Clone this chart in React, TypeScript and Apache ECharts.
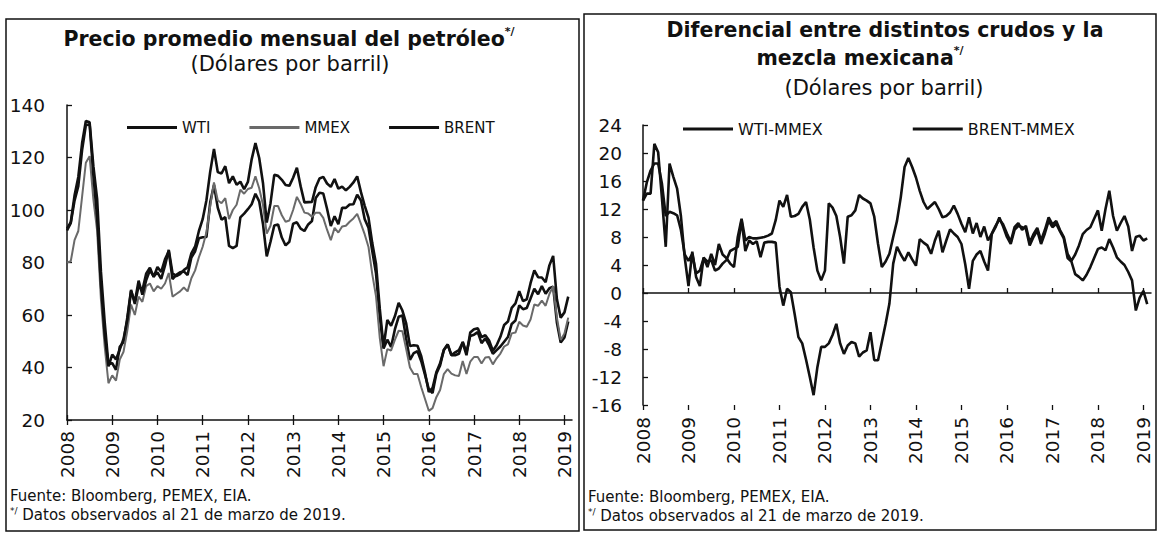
import React, { useEffect, useRef } from "react";
import * as echarts from "echarts";

const years = ["2008", "2009", "2010", "2011", "2012", "2013", "2014", "2015", "2016", "2017", "2018", "2019"];
const monthCodes = ["01", "02", "03", "04", "05", "06", "07", "08", "09", "10", "11", "12"];
// monthly categories, Jan 2008 .. Mar 2019
const months: string[] = years.flatMap((y) => monthCodes.map((m) => `${y}-${m}`)).slice(0, 135);

const yTicksLeft = { min: 20, max: 140, step: 20 };
const yTicksRight = { min: -16, max: 24, step: 4 };

// Precio promedio mensual (USD/barril), Jan 2008 .. Feb 2019
const wti = [
  92.9, 95.4, 105.5, 112.6, 125.4, 133.9, 133.4, 116.7, 104.1, 76.6, 57.3, 41.1,
  41.7, 39.1, 47.9, 49.7, 59.0, 69.6, 64.2, 71.1, 69.4, 75.7, 78.0, 74.5,
  78.3, 76.4, 81.2, 84.3, 73.7, 75.3, 76.3, 76.6, 75.2, 81.9, 84.3, 89.2,
  89.6, 89.7, 102.9, 109.5, 100.9, 96.3, 97.3, 86.3, 85.5, 86.3, 97.2, 98.6,
  100.3, 102.2, 106.2, 103.3, 94.7, 82.3, 87.9, 94.1, 94.5, 89.5, 86.5, 87.9,
  94.8, 95.3, 92.9, 92.0, 94.5, 95.8, 104.6, 106.6, 106.3, 100.5, 93.9, 97.6,
  94.6, 100.8, 100.8, 102.1, 102.2, 105.8, 103.6, 96.5, 93.2, 84.4, 75.8, 59.3,
  47.2, 50.6, 47.8, 54.5, 59.3, 59.8, 50.9, 42.9, 45.5, 46.2, 42.4, 37.2,
  31.7, 30.3, 37.6, 40.8, 46.7, 48.8, 44.7, 44.7, 45.2, 49.8, 45.7, 52.0,
  52.5, 53.5, 49.3, 51.1, 48.5, 45.2, 46.6, 48.0, 49.8, 51.6, 56.6, 57.9,
  63.7, 62.2, 62.7, 66.3, 70.0, 67.9, 71.0, 68.1, 70.2, 70.8, 57.0, 49.5,
  51.4, 57.5,
];
const mmex = [
  80.0, 80.5, 88.5, 92.0, 105.0, 118.0, 120.5, 104.0, 92.0, 66.0, 48.0, 34.0,
  37.0, 35.0, 43.0, 46.0, 54.0, 64.0, 60.0, 67.0, 65.0, 71.0, 72.0, 69.0,
  71.0, 70.0, 72.0, 76.0, 67.0, 68.0, 69.0, 70.5, 69.0, 74.0, 77.0, 82.0,
  86.0, 91.5, 101.5, 110.5, 103.7, 102.6, 104.5, 96.5, 100.0, 102.0, 107.7, 106.2,
  108.0, 108.5, 112.8, 108.3, 102.0, 91.0, 94.0, 101.5, 101.5, 98.0, 95.5, 96.0,
  100.0, 105.0, 102.3, 99.0, 98.7, 97.4, 99.0, 99.0, 97.0, 92.5, 88.5, 93.2,
  91.4, 93.7, 94.0, 95.5, 96.8, 98.5, 94.7, 90.7, 85.9, 75.6, 67.1, 51.2,
  40.5, 47.0, 46.5, 50.5, 54.0, 53.8, 47.0, 40.0, 37.5, 37.5, 32.5, 28.0,
  23.5, 24.5, 28.7, 31.4, 37.5, 39.4, 37.7, 37.0, 36.8, 42.5, 37.5, 42.2,
  44.0, 44.0, 41.5, 43.8, 44.0, 41.2, 43.5, 45.3, 48.0, 48.8, 53.0, 53.3,
  57.4, 56.0, 55.5, 58.3, 64.0, 63.5, 65.5, 63.5, 68.0, 71.0, 59.0, 50.5,
  53.0, 59.0,
];
const brent = [
  92.2, 95.0, 103.6, 109.1, 122.8, 132.3, 132.7, 113.2, 97.2, 71.6, 52.5, 40.4,
  44.9, 43.1, 46.8, 50.9, 58.0, 69.1, 65.0, 73.1, 67.7, 73.2, 77.0, 74.7,
  76.2, 73.8, 78.8, 84.8, 75.9, 74.8, 75.6, 77.1, 78.2, 83.5, 86.1, 92.0,
  96.5, 103.7, 114.6, 123.3, 114.5, 113.9, 116.7, 110.2, 112.8, 109.6, 110.8, 107.9,
  110.7, 119.3, 125.5, 119.8, 110.3, 95.2, 102.6, 113.4, 113.0, 111.5, 109.5, 109.2,
  112.3, 116.1, 109.0, 102.9, 103.0, 103.1, 108.7, 112.0, 112.6, 110.1, 108.8, 111.8,
  108.1, 108.9, 107.5, 108.8, 110.5, 112.8, 106.8, 101.6, 97.1, 87.4, 79.4, 62.3,
  47.8, 58.1, 55.9, 59.5, 64.6, 61.7, 56.8, 48.2, 48.5, 48.3, 44.3, 38.0,
  30.7, 32.2, 38.2, 41.6, 46.7, 48.8, 44.7, 45.8, 46.6, 49.5, 44.7, 53.3,
  54.6, 54.9, 51.6, 52.3, 50.3, 46.4, 48.5, 51.7, 56.2, 57.5, 62.7, 64.4,
  69.1, 65.3, 66.0, 72.1, 77.0, 74.4, 74.3, 72.5, 78.9, 82.5, 66.0, 59.0,
  61.0, 67.0,
];

// Diferencial (USD/barril), Jan 2008 .. Feb 2019
const wtiMmex = [
  13.2, 15.8, 17.5, 18.5, 18.5, 15.6, 11.0, 11.6, 11.4, 11.1, 9.0, 5.5,
  4.6, 5.6, 2.8, 3.2, 5.0, 4.5, 4.7, 3.2, 3.5, 4.2, 4.7, 6.0,
  6.3, 6.6, 10.4, 6.0, 7.5, 7.0, 7.4, 5.1, 7.2, 7.3, 7.3, 7.2,
  0.9, -1.8, 0.6, 0.1, -3.0, -6.3, -7.2, -9.5, -12.0, -14.6, -10.6, -7.7,
  -7.7, -7.2, -6.0, -4.4, -7.2, -8.7, -7.5, -7.0, -7.2, -9.1, -8.5, -8.2,
  -5.6, -9.6, -9.6, -7.0, -4.4, -1.5, 4.2, 6.6, 5.5, 4.6, 5.8, 4.8,
  3.9, 7.7, 7.2, 6.8, 5.6, 7.5, 8.9, 5.8, 7.5, 9.1, 8.5, 8.0,
  7.0, 4.1, 0.6, 4.6, 5.5, 6.0, 4.5, 3.2, 8.4, 9.4, 10.8, 9.5,
  8.0, 7.0, 9.0, 9.6, 9.4, 9.2, 6.8, 8.0, 8.9, 7.0, 8.5, 10.3,
  9.4, 9.9, 8.8, 7.8, 5.0, 4.5, 2.7, 2.3, 1.8, 2.6, 3.7, 5.0,
  6.3, 6.5, 6.1, 7.7, 6.5, 5.1, 4.5, 4.0, 3.0, 1.8, -2.5, -0.7,
  0.3, -1.6,
];
const brentMmex = [
  13.2, 14.2, 14.2, 21.3, 20.1, 13.5, 6.6, 18.5, 16.6, 14.9, 11.0, 5.1,
  1.0, 5.9, 2.3, 1.0, 5.1, 3.7, 5.6, 4.0, 7.0, 5.5, 5.0, 4.2,
  3.7, 8.0, 10.6, 7.5, 8.0, 7.8, 7.8, 7.9, 8.0, 8.2, 8.5, 10.4,
  13.2, 12.3, 14.0, 10.9, 11.0, 11.3, 12.3, 13.0, 10.5, 6.5, 3.2, 1.8,
  3.2, 12.8, 12.2, 11.0, 8.0, 4.2, 10.9, 11.1, 11.8, 14.0, 13.5, 13.2,
  12.8, 10.9, 7.0, 3.7, 4.5, 5.6, 8.0, 10.3, 13.7, 18.0, 19.3, 18.0,
  16.5, 14.6, 13.0, 12.0, 12.5, 13.0, 12.0, 10.8, 11.0, 11.5, 12.5, 11.3,
  9.9, 8.7, 10.8, 8.5, 10.0, 8.0, 9.5, 7.5, 8.5, 9.6, 10.5, 9.8,
  8.5, 7.3, 9.4, 10.0, 9.0, 9.6, 7.2, 8.4, 9.3, 7.5, 9.0, 10.8,
  9.8, 10.3, 9.0, 8.0, 5.6, 4.6, 5.5, 6.8, 8.4, 9.0, 9.4, 10.6,
  11.8, 8.9, 12.0, 14.6, 11.0, 8.9, 10.0, 11.0, 9.5, 6.0, 8.0, 8.2,
  7.5, 7.8,
];

const FONT = "DejaVu Sans";
const INK = "#111";

const yearTick = (i: number) => i % 12 === 0;

export default function App() {
  const ref = useRef<HTMLDivElement>(null);
  useEffect(() => {
    if (!ref.current) return;
    const chart = echarts.init(ref.current, undefined, { renderer: "svg" });

    const catAxisBase = {
      type: "category",
      data: months,
      boundaryGap: false,
      splitLine: { show: false },
    };
    const labelStyle = { color: INK, fontFamily: FONT, fontSize: 18.5 };
    const legendText = { color: INK, fontFamily: FONT, fontSize: 15 };
    const superRich = (size: number, lh: number) => ({
      t: { fontFamily: FONT, fontWeight: "bold", fontSize: size, fill: INK, lineHeight: lh },
      s: { fontFamily: FONT, fontWeight: "bold", fontSize: 11, fill: INK, verticalAlign: "top", lineHeight: lh },
    });
    const noteRich = {
      s: { fontFamily: FONT, fontSize: 9, fill: INK, verticalAlign: "top", lineHeight: 17 },
      t: { fontFamily: FONT, fontSize: 15, fill: INK, lineHeight: 17 },
    };
    const noteStyle = { align: "left", verticalAlign: "middle", fontFamily: FONT, fontSize: 15, lineHeight: 17, fill: INK };

    const option: any = {
      animation: false,
      backgroundColor: "#fff",
      grid: [
        { left: 67, top: 105, width: 505, height: 315 },
        { left: 643, top: 125, width: 508, height: 280 },
      ],
      xAxis: [
        {
          ...catAxisBase,
          gridIndex: 0,
          position: "bottom",
          axisLine: { show: true, lineStyle: { color: INK, width: 1.5 } },
          axisTick: { show: true, inside: true, length: 5, interval: yearTick, lineStyle: { color: INK, width: 1.3 } },
          axisLabel: {
            show: true,
            rotate: 90,
            margin: 11,
            interval: yearTick,
            formatter: (v: string) => v.slice(0, 4),
            ...labelStyle,
          },
        },
        {
          ...catAxisBase,
          gridIndex: 0,
          position: "bottom",
          axisLine: { show: false },
          axisTick: { show: true, inside: false, length: 5, interval: yearTick, lineStyle: { color: INK, width: 1.3 } },
          axisLabel: { show: false },
        },
        {
          ...catAxisBase,
          gridIndex: 1,
          position: "bottom",
          axisLine: { show: true, onZero: true, lineStyle: { color: INK, width: 1.5 } },
          axisTick: { show: true, inside: true, length: 5, interval: yearTick, lineStyle: { color: INK, width: 1.3 } },
          axisLabel: { show: false },
        },
        {
          ...catAxisBase,
          gridIndex: 1,
          position: "bottom",
          axisLine: { show: false, onZero: true },
          axisTick: { show: true, inside: false, length: 5, interval: yearTick, lineStyle: { color: INK, width: 1.3 } },
          axisLabel: { show: false },
        },
        {
          ...catAxisBase,
          gridIndex: 1,
          position: "bottom",
          axisLine: { show: false, onZero: false },
          axisTick: { show: false },
          axisLabel: {
            show: true,
            rotate: 90,
            margin: 12,
            interval: yearTick,
            formatter: (v: string) => v.slice(0, 4),
            ...labelStyle,
          },
        },
      ],
      yAxis: [
        {
          type: "value",
          gridIndex: 0,
          min: yTicksLeft.min,
          max: yTicksLeft.max,
          interval: yTicksLeft.step,
          splitLine: { show: false },
          axisLine: { show: true, lineStyle: { color: INK, width: 1.5 } },
          axisTick: { show: true, inside: true, length: 5, lineStyle: { color: INK, width: 1.3 } },
          axisLabel: { margin: 22, ...labelStyle },
        },
        {
          type: "value",
          gridIndex: 1,
          min: yTicksRight.min,
          max: yTicksRight.max,
          interval: yTicksRight.step,
          splitLine: { show: false },
          axisLine: { show: true, lineStyle: { color: INK, width: 1.5 } },
          axisTick: { show: true, inside: true, length: 5, lineStyle: { color: INK, width: 1.3 } },
          axisLabel: { margin: 21, ...labelStyle },
        },
      ],
      legend: [
        {
          data: ["WTI", "MMEX", "BRENT"],
          left: 127,
          top: 120,
          padding: 0,
          icon: "rect",
          itemWidth: 50,
          itemHeight: 3,
          itemGap: 39,
          textStyle: legendText,
        },
        {
          data: ["WTI-MMEX", "BRENT-MMEX"],
          left: 683,
          top: 121,
          padding: 0,
          icon: "rect",
          itemWidth: 50,
          itemHeight: 3,
          itemGap: 90,
          textStyle: { ...legendText, fontSize: 16 },
        },
      ],
      series: [
        {
          name: "WTI",
          type: "line",
          xAxisIndex: 0,
          yAxisIndex: 0,
          data: wti,
          symbol: "none",
          lineStyle: { color: INK, width: 2.6 },
          itemStyle: { color: INK },
        },
        {
          name: "MMEX",
          type: "line",
          xAxisIndex: 0,
          yAxisIndex: 0,
          data: mmex,
          symbol: "none",
          lineStyle: { color: "#6a6a6a", width: 2 },
          itemStyle: { color: "#6a6a6a" },
        },
        {
          name: "BRENT",
          type: "line",
          xAxisIndex: 0,
          yAxisIndex: 0,
          data: brent,
          symbol: "none",
          lineStyle: { color: INK, width: 2.6 },
          itemStyle: { color: INK },
        },
        {
          name: "WTI-MMEX",
          type: "line",
          xAxisIndex: 2,
          yAxisIndex: 1,
          data: wtiMmex,
          symbol: "none",
          lineStyle: { color: INK, width: 2.6 },
          itemStyle: { color: INK },
        },
        {
          name: "BRENT-MMEX",
          type: "line",
          xAxisIndex: 2,
          yAxisIndex: 1,
          data: brentMmex,
          symbol: "none",
          lineStyle: { color: INK, width: 2.6 },
          itemStyle: { color: INK },
        },
      ],
      graphic: [
        { type: "rect", shape: { x: 6, y: 19, width: 573, height: 512 }, style: { fill: "none", stroke: INK, lineWidth: 1.5 } },
        { type: "rect", shape: { x: 584, y: 14, width: 572, height: 516 }, style: { fill: "none", stroke: INK, lineWidth: 1.5 } },
        {
          type: "text",
          x: 289,
          y: 39,
          style: {
            text: "{t|Precio promedio mensual del petróleo}{s|*/}",
            align: "center",
            verticalAlign: "middle",
            fill: INK,
            rich: superRich(20.5, 26),
          },
        },
        {
          type: "text",
          x: 290,
          y: 64,
          style: { text: "(Dólares por barril)", align: "center", verticalAlign: "middle", fontFamily: FONT, fontSize: 21, fill: INK },
        },
        {
          type: "text",
          x: 885,
          y: 30,
          style: { text: "Diferencial entre distintos crudos y la", align: "center", verticalAlign: "middle", fontFamily: FONT, fontWeight: "bold", fontSize: 20.5, fill: INK },
        },
        {
          type: "text",
          x: 860,
          y: 58,
          style: {
            text: "{t|mezcla mexicana}{s|*/}",
            align: "center",
            verticalAlign: "middle",
            fill: INK,
            rich: superRich(20.5, 26),
          },
        },
        {
          type: "text",
          x: 884,
          y: 88,
          style: { text: "(Dólares por barril)", align: "center", verticalAlign: "middle", fontFamily: FONT, fontSize: 21, fill: INK },
        },
        { type: "text", x: 10, y: 496, style: { text: "Fuente: Bloomberg, PEMEX, EIA.", ...noteStyle } },
        {
          type: "text",
          x: 10,
          y: 515,
          style: { text: "{s|*/}{t| Datos observados al 21 de marzo de 2019.}", align: "left", verticalAlign: "middle", rich: noteRich },
        },
        { type: "text", x: 588, y: 497, style: { text: "Fuente: Bloomberg, PEMEX, EIA.", ...noteStyle } },
        {
          type: "text",
          x: 588,
          y: 516,
          style: { text: "{s|*/}{t| Datos observados al 21 de marzo de 2019.}", align: "left", verticalAlign: "middle", rich: noteRich },
        },
      ],
    };

    chart.setOption(option);
    return () => chart.dispose();
  }, []);

  return (
    <div
      ref={ref}
      style={{ position: "absolute", left: 0, top: 0, width: 1159, height: 533, background: "#fff" }}
    />
  );
}
